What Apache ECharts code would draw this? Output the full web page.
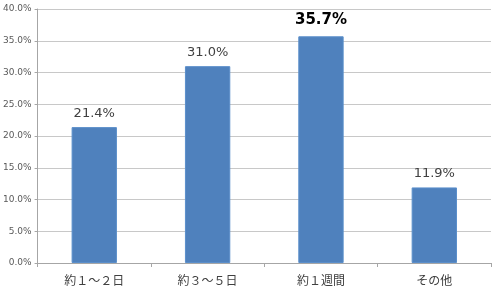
<!DOCTYPE html>
<html><head><meta charset="utf-8">
<script src="https://cdn.jsdelivr.net/npm/echarts@6/dist/echarts.min.js"></script>
<style>html,body{margin:0;padding:0;background:#fff}#c{width:500px;height:296px}</style>
</head><body><div id="c"></div>
<script>
const categories = ['約１～２日', '約３～５日', '約１週間', 'その他'];
const values = [21.4, 31.0, 35.7, 11.9];
const yTicks = [0, 5, 10, 15, 20, 25, 30, 35, 40];
const maxV = Math.max(...values);
const chart = echarts.init(document.getElementById('c'), null, {renderer: 'canvas'});
chart.setOption({
  animation: false,
  grid: {left: 34, right: 9, top: 9, bottom: 33},
  xAxis: {
    type: 'category', data: categories,
    axisLine: {lineStyle: {color: '#A6A6A6'}},
    axisTick: {show: true, length: 4, lineStyle: {color: '#A6A6A6'}},
    axisLabel: {color: '#404040', fontSize: 12, margin: 11, fontFamily: 'Noto Sans CJK JP'}
  },
  yAxis: {
    type: 'value', min: yTicks[0], max: yTicks[yTicks.length - 1], interval: 5,
    axisLine: {show: true, lineStyle: {color: '#A6A6A6'}},
    axisTick: {show: true, length: 3, lineStyle: {color: '#A6A6A6'}},
    splitLine: {lineStyle: {color: '#C8C8C8'}},
    axisLabel: {color: '#595959', fontSize: 9, margin: 6, fontFamily: 'DejaVu Sans',
      formatter: v => v.toFixed(1) + '%'}
  },
  series: [{
    type: 'bar', barWidth: '40%',
    data: values.map(v => ({
      value: v,
      label: v === maxV ? {fontWeight: 'bold', fontSize: 15, color: '#000', distance: 9} : {}
    })),
    itemStyle: {color: '#4F81BD', borderColor: '#5B8FCB', borderWidth: 1},
    label: {show: true, position: 'top', distance: 7, color: '#404040', fontSize: 13,
      fontFamily: 'DejaVu Sans', formatter: p => p.value.toFixed(1) + '%'}
  }]
});
</script></body></html>
